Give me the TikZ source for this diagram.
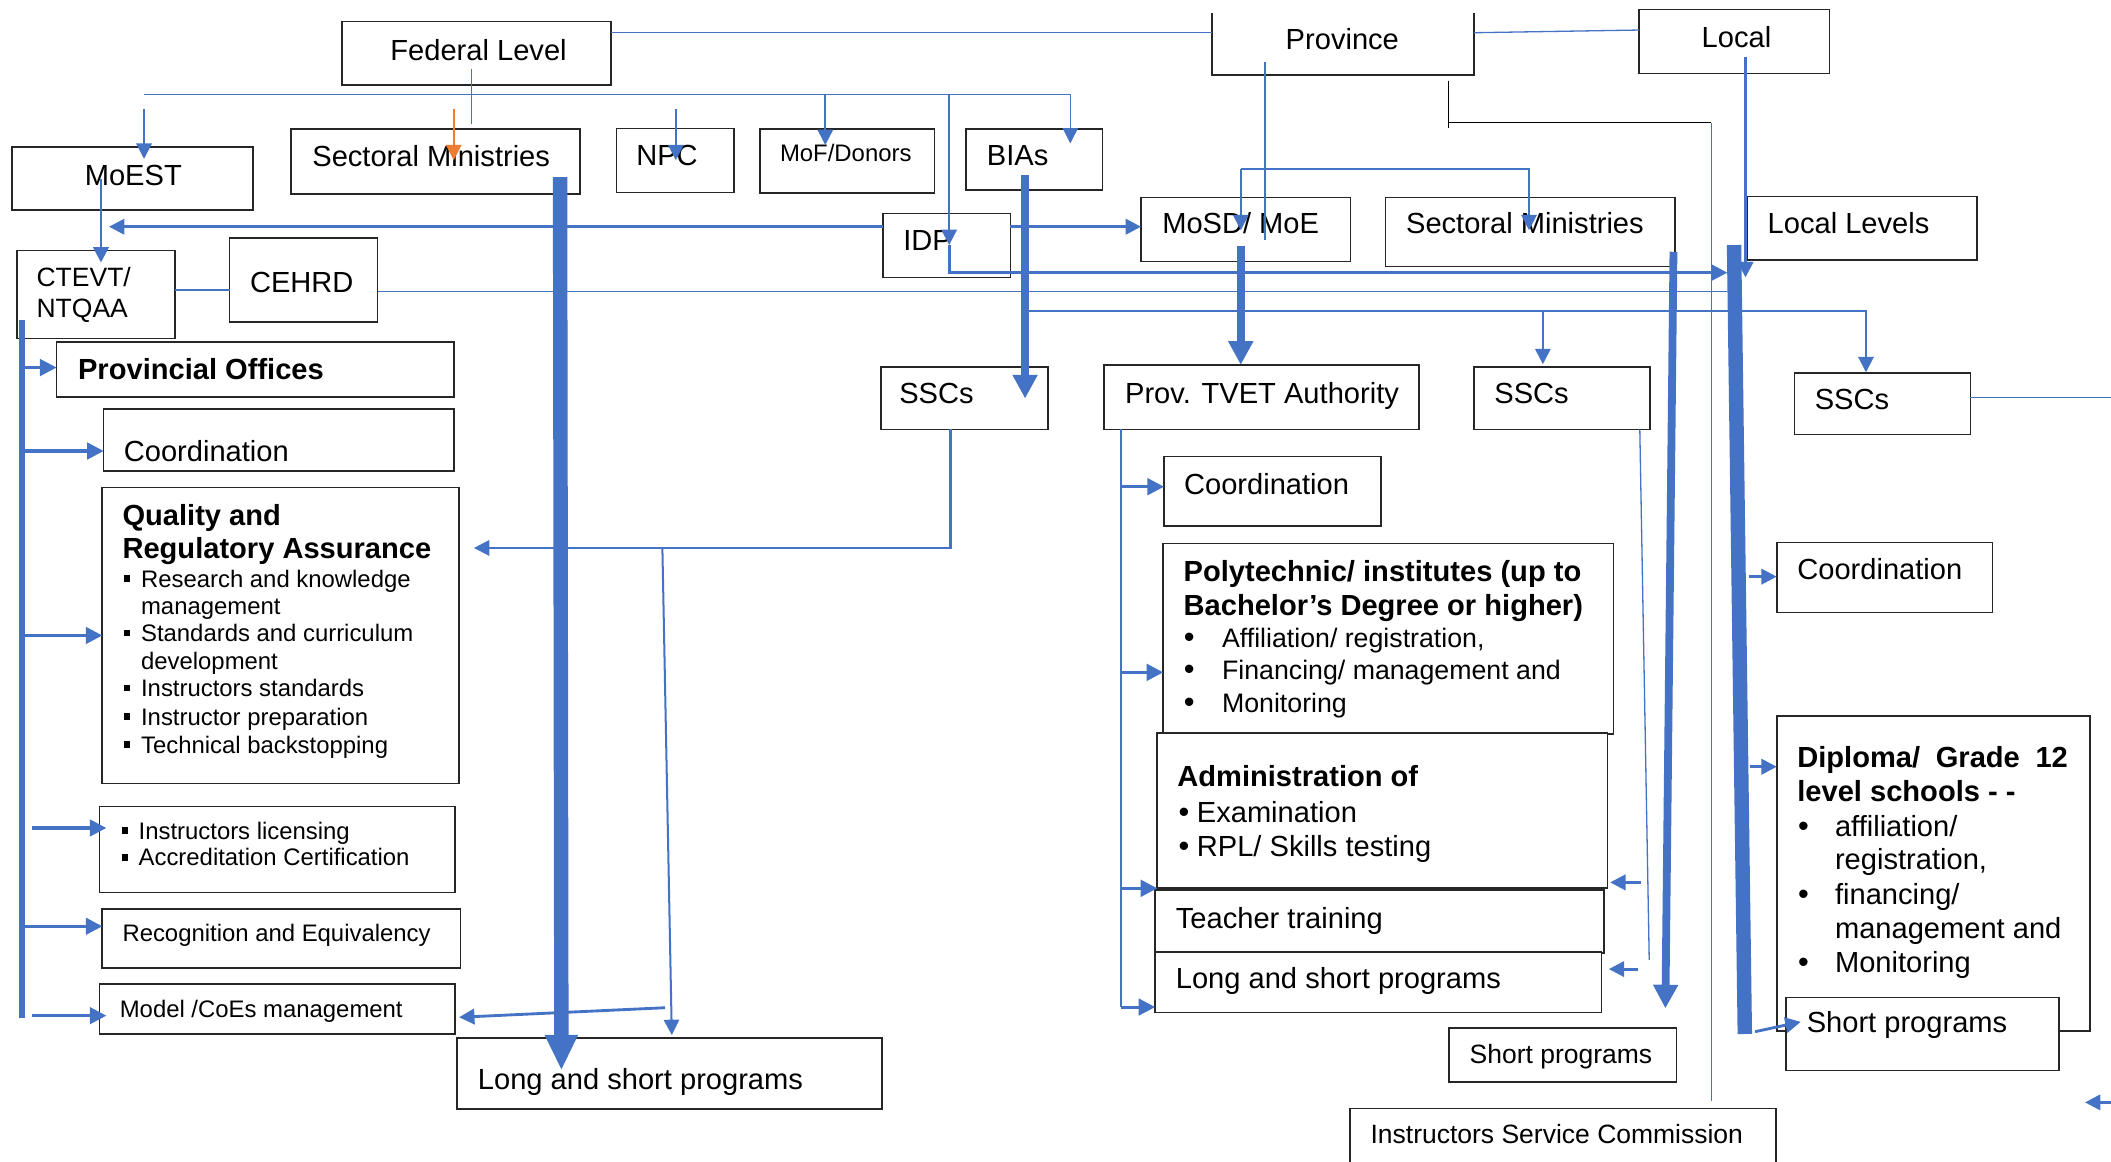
\documentclass[tikz,border=0pt]{standalone}
\usepackage{fontspec}
\setmainfont{Liberation Sans}
\usetikzlibrary{arrows.meta,fit,calc}
\definecolor{myblue}{RGB}{68,114,196}
\definecolor{myorange}{RGB}{237,125,49}
\newcommand\fsA{\fontsize{12.3}{14}\selectfont}
\newcommand\fsB{\fontsize{10.1}{12}\selectfont}
\newcommand\fsC{\fontsize{11.2}{13}\selectfont}
\newcommand\fsD{\fontsize{11.3}{13}\selectfont}
\newcommand\fsBul{\fontsize{13}{14}\selectfont}
\newcommand\sqb{\rule[2.3pt]{2.5pt}{2.8pt}}
\newcommand\bx[3]{\node[box, fit={(#2) (#3)}] (#1) {};}
\newcommand\tx[4][]{\node[lbl,#1] (#2) at (#3) {#4};}
\begin{document}
\begin{tikzpicture}[x=0.02cm,y=-0.02cm,
  box/.style={draw=black!85, line width=0.7pt, fill=white, inner sep=0pt, outer sep=0pt},
  lbl/.style={inner sep=0pt, outer sep=0pt, anchor=base west, font=\fsA, text=black},
  arw/.style={-{Triangle[length=6.5pt,width=6.5pt]}},
  thinl/.style={myblue, line width=0.55pt},
  midl/.style={myblue, line width=0.85pt},
  medl/.style={myblue, line width=1.2pt},
  coll/.style={myblue, line width=1.3pt, -{Triangle[length=7pt,width=7pt]}},
  thickl/.style={myblue, line width=3.3pt, -{Triangle[length=10pt,width=10pt]}},
  heavyl/.style={myblue, line width=6.1pt, -{Triangle[length=15pt,width=13pt]}}]
\fill[white] (0,0) rectangle (1568,863);
\useasboundingbox (0,0) rectangle (1568,863);

% ---------------- boxes ----------------
\bx{fed}{254,16}{454,63}
\node[inner sep=0pt, outer sep=0pt, fit={(900,10) (1095,55.7)}] (prov) {};
\draw[draw=black!85, line width=0.7pt] (prov.north west) -- (prov.south west) -- (prov.south east) -- (prov.north east);
\bx{local}{1217.5,7}{1359,54.5}
\bx{moest}{9,109}{188,156}
\bx{smf}{216,96}{431,144}
\bx{npc}{458,95.5}{545,143}
\bx{mof}{564.5,96}{694,143.5}
\bx{bias}{717.5,96}{819,141}
\bx{idp}{656,158.5}{750.5,206}
\bx{mosd}{847.5,146.6}{1003,194.3}
\bx{smp}{1029,146.8}{1244,198}
\bx{loclev}{1297.5,146}{1468.5,193}
\bx{ctevt}{12.5,186}{130,251.5}
\bx{cehrd}{170.5,177}{280.5,239}
\bx{provoff}{42,254}{337,295}
\bx{coordf}{77,304}{337,350}
\bx{qra}{76,362}{341,582}
\bx{lic}{74,599}{338,663}
\bx{recog}{76,675}{342,719}
\bx{model}{74,731}{338,768}
\bx{lspf}{339.5,771}{655,823.5}
\bx{sscf}{654.6,272.4}{778.4,319}
\bx{ptvet}{820,271}{1054,319}
\bx{sscp}{1095,272.4}{1225.6,319}
\bx{sscl}{1333,277}{1463.6,322.6}
\bx{coordp}{864.6,339}{1025.8,390.7}
\bx{poly}{864,403.6}{1198.5,545}
\bx{admin}{859.6,544.2}{1194,659.8}
\bx{teach}{858,661}{1191.5,708}
\bx{lspp}{858,707}{1189.5,752}
\bx{spp}{1076.3,763.6}{1245.3,803.7}
\bx{isc}{1002.8,823.3}{1319,880}
\bx{coordl}{1319.7,403}{1480,455}
\bx{dipl}{1319.7,532}{1552.3,766}
\bx{spl}{1326.6,741}{1529.5,795}

% ---------------- texts ----------------
\tx{tfed}{290,44.6}{Federal Level}
\tx{tprov}{955,36.6}{Province}
\tx{tlocal}{1264,35.5}{Local}
\tx{tmoest}{63,137.5}{MoEST}
\tx{tsmf}{232,124}{Sectoral Ministries}
\tx{tnpc}{472.6,122.6}{NPC}
\tx[font=\fsB]{tmof}{579.4,120}{MoF/Donors}
\tx{tbias}{733,122.6}{BIAs}
\tx{tidp}{671,185.7}{IDP}
\tx{tmosd}{863.3,173.3}{MoSD/ MoE}
\tx{tsmp}{1044.4,173.3}{Sectoral Ministries}
\tx{tloclev}{1313,173.5}{Local Levels}
\tx[font=\fsC]{tctevta}{27.2,213}{CTEVT/}
\tx[font=\fsC]{tctevtb}{27.2,236}{NTQAA}
\tx{tcehrd}{185.7,217}{CEHRD}
\tx[font=\fsA\bfseries]{tprovoff}{58,282}{Provincial Offices}
\tx{tcoordf}{92,343}{Coordination}
\tx[font=\fsA\bfseries]{tqraa}{91,390}{Quality and}
\tx[font=\fsA\bfseries]{tqrab}{91,414.5}{Regulatory Assurance}
\tx{qsa}{92.2,436}{\sqb}
\tx[font=\fsB]{tqa}{104.8,436}{Research and knowledge}
\tx[font=\fsB]{tqb}{104.8,456.3}{management}
\tx{qsc}{92.2,476.6}{\sqb}
\tx[font=\fsB]{tqc}{104.8,476.6}{Standards and curriculum}
\tx[font=\fsB]{tqd}{104.8,497}{development}
\tx{qse}{92.2,517.5}{\sqb}
\tx[font=\fsB]{tqe}{104.8,517.5}{Instructors standards}
\tx{qsf}{92.2,538.5}{\sqb}
\tx[font=\fsB]{tqf}{104.8,538.5}{Instructor preparation}
\tx{qsg}{92.2,559.5}{\sqb}
\tx[font=\fsB]{tqg}{104.8,559.5}{Technical backstopping}
\tx{lsa}{90.8,623.4}{\sqb}
\tx[font=\fsB]{tla}{103,623.4}{Instructors licensing}
\tx{lsb}{90.8,643.2}{\sqb}
\tx[font=\fsB]{tlb}{103,643.2}{Accreditation Certification}
\tx[font=\fsB]{trecog}{91,699.4}{Recognition and Equivalency}
\tx[font=\fsB]{tmodel}{89,755.6}{Model /CoEs management}
\tx{tlspf}{355,809.6}{Long and short programs}
\tx{tsscf}{668,300}{SSCs}
\tx{tptvet}{835.7,299.6}{Prov. TVET Authority}
\tx{tsscp}{1110,299.6}{SSCs}
\tx{tsscl}{1348,304}{SSCs}
\tx{tcoordp}{879.5,367}{Coordination}
\tx[font=\fsA\bfseries]{tpolya}{879.2,432}{Polytechnic/ institutes (up to}
\tx[font=\fsA\bfseries]{tpolyb}{879.2,456.8}{Bachelor’s Degree or higher)}
\tx[anchor=base,font=\fsBul]{pba}{883.4,481}{•}
\tx[font=\fsD]{tpa}{907.7,481}{Affiliation/ registration,}
\tx[anchor=base,font=\fsBul]{pbb}{883.4,504.6}{•}
\tx[font=\fsD]{tpb}{907.7,504.6}{Financing/ management and}
\tx[anchor=base,font=\fsBul]{pbc}{883.4,529.4}{•}
\tx[font=\fsD]{tpc}{907.7,529.4}{Monitoring}
\tx[font=\fsA\bfseries]{tadmin}{874.5,584.3}{Administration of}
\tx[anchor=base,font=\fsBul]{aba}{879.5,611}{•}
\tx{tada}{889,611}{Examination}
\tx[anchor=base,font=\fsBul]{abb}{879.5,636.3}{•}
\tx{tadb}{889,636.3}{RPL/ Skills testing}
\tx{tteach}{873.4,689.5}{Teacher training}
\tx{tlspp}{873.4,734}{Long and short programs}
\tx[font=\fsC]{tspp}{1091.6,789.8}{Short programs}
\tx[font=\fsC]{tisc}{1018,849.2}{Instructors Service Commission}
\tx{tcoordl}{1335,430.5}{Coordination}
\tx[font=\fsA\bfseries]{tdipa}{1335,570}{\makebox[4.02cm][s]{Diploma/ Grade 12}}
\tx[font=\fsA\bfseries]{tdipb}{1335,595}{level schools - -}
\tx[anchor=base,font=\fsBul]{dba}{1339.5,621}{•}
\tx{tdpa}{1363,621}{affiliation/}
\tx{tdpb}{1363,646}{registration,}
\tx[anchor=base,font=\fsBul]{dbc}{1339.5,672}{•}
\tx{tdpc}{1363,672}{financing/}
\tx{tdpd}{1363,697}{management and}
\tx[anchor=base,font=\fsBul]{dbe}{1339.5,722}{•}
\tx{tdpe}{1363,722}{Monitoring}
\tx{tspl}{1342,767}{Short programs}

% ---------------- connectors ----------------
% top level links
\draw[thinl] (fed.east |- 0,24.3) -- (prov.west |- 0,24.3);
\draw[thinl] (prov.east |- 0,24.3) -- (local.west |- 0,22.3);
\coordinate (fva) at (350,51);
\coordinate (fvb) at (350,92);
\draw[thinl] (fva) -- (fvb);
% federal bus
\coordinate (busL) at (107,70);
\coordinate (busR) at (795,70);
\coordinate (busI) at (705,70);
\coordinate (busM) at (613,70);
\draw[thinl] (busL) -- (busR);
\draw[thinl, arw] (busR) -- (busR |- 0,106.5);
\draw[midl, arw] (busM) -- (busM |- 0,107.7);
\draw[midl, arw] (107,81) -- (107,118);
\draw[myorange, line width=0.9pt, arw] (337,81) -- (337,119);
\draw[midl, arw] (502,81) -- (502,119);
\draw[midl, arw] (busI) -- (busI |- 0,182);
\draw[medl, arw] (busI |- 0,182) -- (705,202.5) -- (1283,202.5);
% IDP links
\draw[medl, arw] (idp.west |- 0,168.4) -- (81,168.4);
\draw[medl, arw] (idp.east |- 0,168.4) -- (mosd.west |- 0,168.4);
% MoEST -> CTEVT
\draw[medl, arw] (75,133) -- (75,195);
% CTEVT - CEHRD - Local
\draw[thinl] (ctevt.east |- 0,215.5) -- (cehrd.west |- 0,215.5);
\draw[thinl] (cehrd.east |- 0,216.5) -- (1283,216.5);
% line to SSCs
\draw[midl, arw] (763,231) -- (1386,231) -- (1386,276.5);
\draw[midl, arw] (1146,231) -- (1146,270.5);
% Province
\draw[thinl] (939.5,46) -- (939.5,178);
\draw[midl, arw] (921.6,125.5) -- (921.6,171);
\draw[midl, arw] (921.6,125.5) -- (1135.7,125.5) -- (1135.7,171);
\draw[black, line width=0.6pt] (1076,60) -- (1076,95);
\draw[black, line width=0.6pt] (1076,91) -- (1271,91);
\draw[thinl] (1271,91) -- (1271,817.6);
% Local
\draw[medl, arw] (1296.5,42.6) -- (1296.5,206);
\draw[medl, arw] (1299,428.3) -- (coordl.west |- 0,428.3);
\draw[medl, arw] (1300,569.5) -- (dipl.west |- 0,569.5);
\draw[medl, arw] (1303.6,766.3) -- (1337.5,759);
\draw[thinl] (sscl.east |- 0,295) -- (1568,295);
\draw[medl, arw] (1568,818.8) -- (1548.7,818.8);
% provincial side
\draw[thinl] (1218,319) -- (1225,713);
\draw[medl, arw] (1219,655.4) -- (1196,655.4);
\draw[medl, arw] (1217,719.8) -- (1195,719.8);
\draw[thinl] (832.7,319) -- (832.7,748);
\draw[coll] (832.7,361.5) -- (coordp.west |- 0,361.5);
\draw[coll] (832.7,499.4) -- (poly.west |- 0,499.4);
\draw[coll] (832.7,659.8) -- (859.6,659.8);
\draw[coll] (832.7,748) -- (lspp.west |- 0,748);
% federal SSCs
\draw[midl, arw] (706,319) -- (706,407) -- (352,407);
\draw[midl, arw] (492,407) -- (499,768.8);
\draw[medl, arw] (494,748.5) -- (341,755.6);
% left column
\draw[myblue, line width=2.3pt] (16.5,238) -- (16.5,756);
\draw[coll] (17,273) -- (provoff.west |- 0,273);
\draw[coll] (17,335) -- (coordf.west |- 0,335);
\draw[coll] (17,472) -- (qra.west |- 0,472);
\draw[coll] (23.5,615) -- (79,615);
\draw[coll] (17,688) -- (recog.west |- 0,688);
\draw[coll] (23.5,754.4) -- (79,754.4);
% thick bars
\draw[thickl] (761.4,130) -- (761.4,296);
\draw[thickl] (921.6,182.7) -- (921.6,271);
\draw[thickl] (1243,187) -- (1237,749);
\draw[myblue, line width=6.1pt] (1288,182) -- (1296,768);
\draw[heavyl] (416,131.5) -- (417,795);
\end{tikzpicture}
\end{document}
